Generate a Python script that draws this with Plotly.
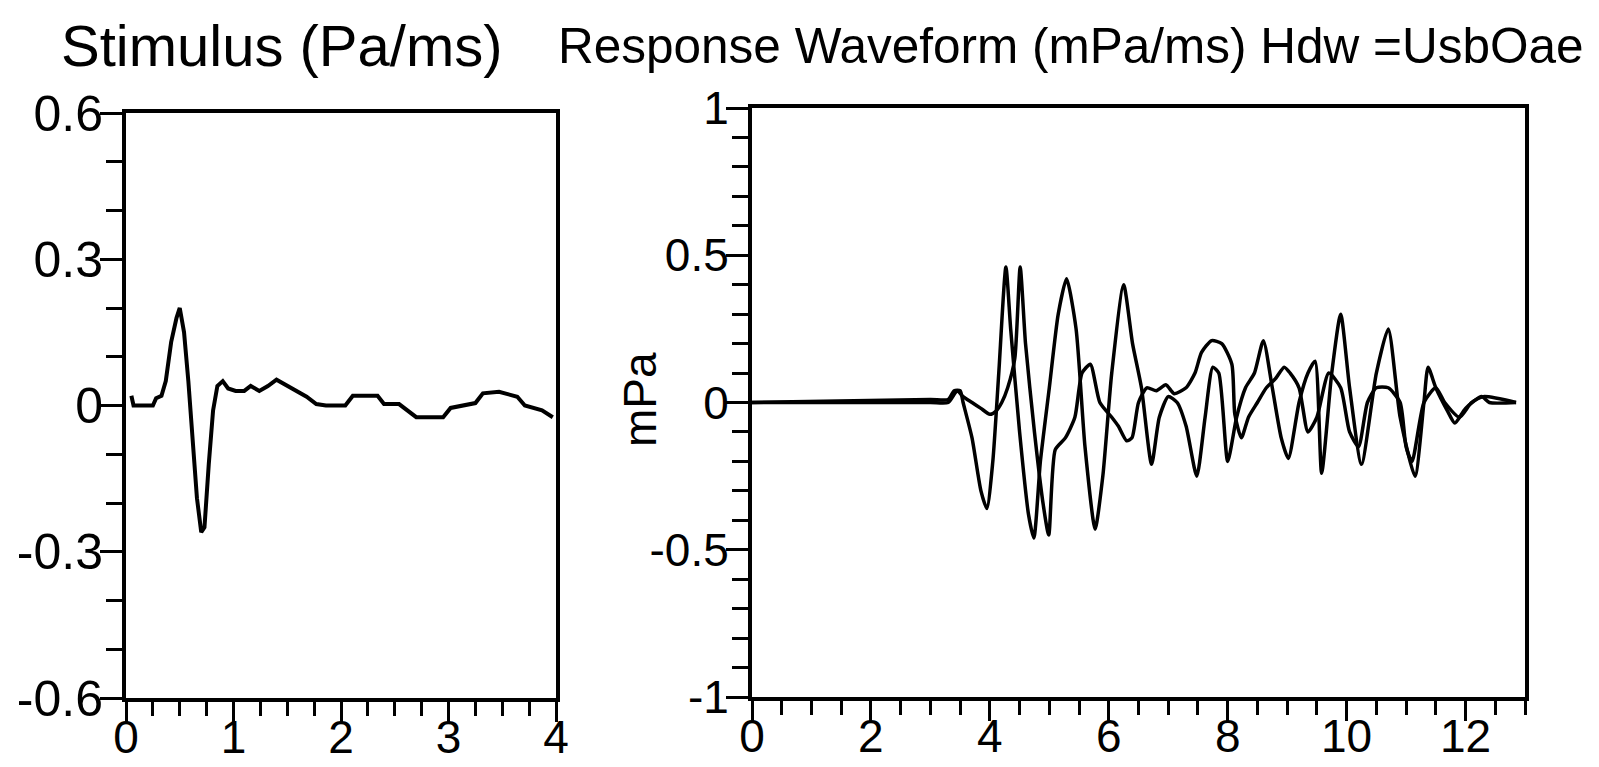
import plotly.graph_objects as go

W, H = 1599, 767

# ---- Stimulus (left panel) ----
stim_t = [0.05, 0.07, 0.25, 0.28, 0.33, 0.37, 0.42, 0.47, 0.50, 0.54, 0.58, 0.62, 0.66,
          0.70, 0.73, 0.77, 0.81, 0.85, 0.90, 0.95, 1.02, 1.10, 1.16, 1.24, 1.32, 1.40,
          1.54, 1.68, 1.77, 1.86, 2.04, 2.11, 2.34, 2.40, 2.54, 2.70, 2.95, 3.02, 3.25,
          3.32, 3.47, 3.64, 3.71, 3.87, 3.97]
stim_v = [0.02, 0.0, 0.0, 0.015, 0.02, 0.05, 0.13, 0.18, 0.20, 0.15, 0.05, -0.08, -0.19,
          -0.26, -0.25, -0.12, -0.01, 0.04, 0.05, 0.035, 0.03, 0.03, 0.04, 0.03, 0.04, 0.053,
          0.036, 0.018, 0.003, 0.0, 0.0, 0.02, 0.02, 0.003, 0.003, -0.024, -0.024, -0.005, 0.005,
          0.025, 0.028, 0.018, 0.0, -0.01, -0.024]

# ---- Response (right panel), two traces ----
resp_a_t = [0, 3.0, 3.3, 3.4, 3.5, 3.55, 3.7, 3.85, 3.95, 4.05, 4.15, 4.27, 4.35, 4.5, 4.65,
            4.74, 4.85, 5.0, 5.15, 5.29, 5.45, 5.6, 5.77, 5.9, 6.05, 6.25, 6.4, 6.55, 6.72,
            6.85, 7.0, 7.15, 7.3, 7.48, 7.62, 7.75, 7.85, 8.0, 8.15, 8.3, 8.45, 8.6, 8.75,
            8.9, 9.02, 9.2, 9.35, 9.47, 9.58, 9.75, 9.9, 10.05, 10.25, 10.5, 10.7, 10.9,
            11.15, 11.3, 11.37, 11.5, 11.7, 11.82, 12.0, 12.27, 12.4, 12.85]
resp_a_v = [0, 0.01, 0.01, 0.04, 0.04, 0.0, -0.12, -0.3, -0.36, -0.2, 0.1, 0.46, 0.25, -0.1,
            -0.38, -0.46, -0.2, 0.05, 0.3, 0.42, 0.25, -0.15, -0.43, -0.25, 0.1, 0.40, 0.2,
            0.05, -0.21, -0.05, 0.02, 0.0, -0.08, -0.25, -0.05, 0.12, 0.1, -0.2, -0.05, 0.05,
            0.1, 0.21, 0.05, -0.12, -0.19, 0.0, 0.1, 0.14, -0.24, 0.1, 0.30, 0.05, -0.21, 0.1,
            0.25, -0.05, -0.25, 0.0, 0.12, 0.05, -0.03, -0.07, -0.02, 0.02, 0.0, 0.0]

resp_b_t = [0, 3.0, 3.3, 3.45, 3.55, 3.7, 3.85, 4.0, 4.1, 4.2, 4.3, 4.42, 4.51, 4.6, 4.75,
            4.9, 4.99, 5.1, 5.27, 5.43, 5.55, 5.69, 5.85, 6.05, 6.16, 6.3, 6.39, 6.5, 6.64,
            6.8, 6.96, 7.1, 7.3, 7.45, 7.56, 7.73, 7.9, 8.07, 8.12, 8.23, 8.35, 8.5, 8.65,
            8.8, 8.95, 9.05, 9.2, 9.35, 9.5, 9.7, 9.9, 10.05, 10.2, 10.35, 10.5, 10.7, 10.9,
            11.0, 11.1, 11.3, 11.5, 11.65, 11.9, 12.1, 12.3, 12.85]
resp_b_v = [0, 0.0, 0.0, 0.04, 0.02, 0.0, -0.02, -0.04, -0.03, 0.0, 0.05, 0.15, 0.46, 0.2,
            -0.1, -0.35, -0.45, -0.16, -0.12, -0.05, 0.1, 0.13, 0.0, -0.05, -0.08, -0.13, -0.12,
            0.0, 0.05, 0.04, 0.06, 0.03, 0.05, 0.1, 0.17, 0.21, 0.2, 0.13, -0.04, -0.12, -0.05,
            0.0, 0.05, 0.08, 0.12, 0.1, 0.05, -0.1, -0.05, 0.1, 0.05, -0.1, -0.15, 0.0, 0.05,
            0.05, 0.0, -0.15, -0.2, 0.0, 0.05, 0.0, -0.05, 0.0, 0.02, 0.0]

# ---- tick labels ----
stim_y_vals = [-0.6, -0.3, 0, 0.3, 0.6]
stim_y_text = ["-0.6", "-0.3", "0", "0.3", "0.6"]
stim_x_vals = [0, 1, 2, 3, 4]
stim_x_text = ["0", "1", "2", "3", "4"]
resp_y_vals = [-1, -0.5, 0, 0.5, 1]
resp_y_text = ["-1", "-0.5", "0", "0.5", "1"]
resp_x_vals = [0, 2, 4, 6, 8, 10, 12]
resp_x_text = ["0", "2", "4", "6", "8", "10", "12"]

title_left = "Stimulus (Pa/ms)"
title_right = "Response Waveform (mPa/ms) Hdw =UsbOae"
ylabel_right = "mPa"

FONT = "Liberation Sans, Arial, sans-serif"

def px_x(p):
    return p / W

def px_y(p):
    return 1 - p / H

fig = go.Figure()
fig.add_trace(go.Scatter(x=stim_t, y=stim_v, mode="lines",
                         line=dict(color="black", width=4), xaxis="x", yaxis="y"))
fig.add_trace(go.Scatter(x=resp_a_t, y=resp_a_v, mode="lines",
                         line=dict(color="black", width=3.5, shape="spline", smoothing=0.6),
                         xaxis="x2", yaxis="y2"))
fig.add_trace(go.Scatter(x=resp_b_t, y=resp_b_v, mode="lines",
                         line=dict(color="black", width=3.5, shape="spline", smoothing=0.6),
                         xaxis="x2", yaxis="y2"))

common = dict(showline=True, linecolor="black", linewidth=4, mirror=True,
              ticks="outside", tickcolor="black", tickwidth=3, showgrid=False,
              zeroline=False, automargin=False,
              tickfont=dict(family=FONT, size=50, color="black"))

fig.update_layout(
    width=W, height=H,
    margin=dict(l=0, r=0, t=0, b=0),
    paper_bgcolor="white", plot_bgcolor="white",
    showlegend=False,
    xaxis=dict(domain=[px_x(126), px_x(556)], range=[0, 4], anchor="y",
               tickmode="array", tickvals=stim_x_vals, ticktext=stim_x_text, ticklen=20,
               ticklabelstandoff=-24,
               minor=dict(dtick=0.25, ticklen=14, tickwidth=3, tickcolor="black", ticks="outside"),
               **common),
    yaxis=dict(domain=[px_y(698), px_y(113)], range=[-0.6, 0.6], anchor="x",
               tickmode="array", tickvals=stim_y_vals, ticktext=stim_y_text, ticklen=22,
               ticklabelstandoff=-13,
               minor=dict(dtick=0.1, ticklen=16, tickwidth=3, tickcolor="black", ticks="outside"),
               **common),
    xaxis2=dict(domain=[px_x(752), px_x(1525)], range=[0, 13], anchor="y2",
                tickmode="array", tickvals=resp_x_vals, ticktext=resp_x_text, ticklen=20,
                ticklabelstandoff=-24,
                minor=dict(dtick=0.5, ticklen=14, tickwidth=3, tickcolor="black", ticks="outside"),
                **common),
    yaxis2=dict(domain=[px_y(697), px_y(108)], range=[-1, 1], anchor="x2",
                tickmode="array", tickvals=resp_y_vals, ticktext=resp_y_text, ticklen=22,
                ticklabelstandoff=-12,
                minor=dict(dtick=0.1, ticklen=16, tickwidth=3, tickcolor="black", ticks="outside"),
                **common),
)
fig.update_layout(yaxis2_tickfont_size=46, xaxis_tickfont_size=46, xaxis2_tickfont_size=46)

fig.add_annotation(text=title_left, x=px_x(59), y=px_y(45), xref="paper", yref="paper",
                   xanchor="left", yanchor="middle", showarrow=False,
                   font=dict(family=FONT, size=58, color="black"))
fig.add_annotation(text=title_right, x=px_x(556), y=px_y(45), xref="paper", yref="paper",
                   xanchor="left", yanchor="middle", showarrow=False,
                   font=dict(family=FONT, size=49.5, color="black"))
fig.add_annotation(text=ylabel_right, x=px_x(640), y=px_y(400), xref="paper", yref="paper",
                   xanchor="center", yanchor="middle", showarrow=False, textangle=-90,
                   font=dict(family=FONT, size=46, color="black"))

fig.write_html("out.html")
